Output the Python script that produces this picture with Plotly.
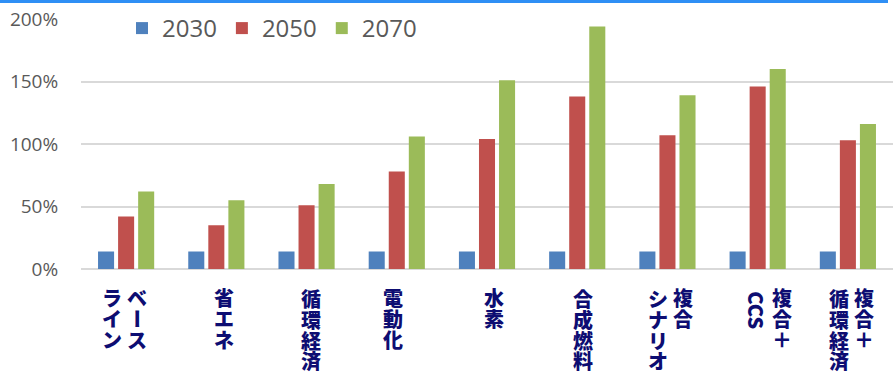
import plotly.graph_objects as go

# Scenario categories and projected ratios (%) per target year
categories = ["ベースライン", "省エネ", "循環経済", "電動化", "水素",
              "合成燃料", "複合シナリオ", "複合＋CCS", "複合＋循環経済"]
vals_2030 = [14, 14, 14, 14, 14, 14, 14, 14, 14]
vals_2050 = [42, 35, 51, 78, 104, 138, 107, 146, 103]
vals_2070 = [62, 55, 68, 106, 151, 194, 139, 160, 116]
series_names = ["2030", "2050", "2070"]
y_ticks = [0, 50, 100, 150, 200]
y_tick_text = ["0%", "50%", "100%", "150%", "200%"]

# Vertical label columns (reading order: right column first)
label_lines = [["ベース", "ライン"], ["省エネ"], ["循環経済"], ["電動化"], ["水素"],
               ["合成燃料"], ["複合", "シナリオ"], ["複合＋", "CCS"], ["複合＋", "循環経済"]]
label_col_shift = [[11, -14], [8], [4], [-4], [7], [6], [16, -9], [24, -1], [16, -9]]

colors = ["#4F81BD", "#C0504D", "#9BBB59"]

W, H = 893, 373
M_L, M_R, M_T, M_B = 81, 0, 19, 104
PLOT_H = H - M_T - M_B
PLOT_W = W - M_L - M_R

fig = go.Figure()
for name, vals, c in zip(series_names, [vals_2030, vals_2050, vals_2070], colors):
    fig.add_trace(go.Bar(x=categories, y=vals, name=name, marker_color=c,
                         marker_line_width=0))


def py(pix):
    """Pixel row (from figure top) to paper y."""
    return (H - M_B - pix) / PLOT_H


def px(pix):
    return (pix - M_L) / PLOT_W


# Column text: base font 16 sets the line pitch (1.3 em = 20.8 px),
# glyphs themselves are enlarged with an inline span.
BASE_SIZE = 16
GLYPH = 20
PITCH = 1.3 * BASE_SIZE
TOP = 288
INK = "#0d0d72"
FAM = "Noto Sans CJK JP"

annotations = []
for cat, cols, shifts in zip(categories, label_lines, label_col_shift):
    for col, sh in zip(cols, shifts):
        if col.isascii():
            annotations.append(dict(
                x=cat, xref="x", xshift=sh, y=py(TOP + 22), yref="paper",
                text=col, showarrow=False, textangle=90,
                font=dict(family=FAM, size=GLYPH, color=INK, weight=900),
                xanchor="center", yanchor="middle"))
            continue
        rows = []
        for i, ch in enumerate(col):
            if ch == "ー":
                # long vowel mark turns upright in vertical writing
                annotations.append(dict(
                    x=cat, xref="x", xshift=sh, y=py(TOP + 10 + i * PITCH),
                    yref="paper", text=ch, showarrow=False, textangle=90,
                    font=dict(family=FAM, size=GLYPH, color=INK, weight=900),
                    xanchor="center", yanchor="middle"))
                rows.append("\u3000")
            else:
                rows.append(ch)
        text = "<br>".join(
            '<span style="font-size:%dpx">%s</span>' % (GLYPH, r) for r in rows)
        n = len(rows)
        annotations.append(dict(
            x=cat, xref="x", xshift=sh,
            y=py(TOP + 10 + (n - 1) / 2 * PITCH), yref="paper",
            text=text, showarrow=False, align="center",
            font=dict(family=FAM, size=BASE_SIZE, color=INK, weight=900),
            xanchor="center", yanchor="middle"))

shapes = [dict(type="rect", xref="paper", yref="paper",
               x0=px(0), x1=px(888), y0=py(3), y1=py(0),
               fillcolor="#2f8ff5", line_width=0, layer="above")]

fig.update_layout(
    width=W, height=H,
    margin=dict(l=M_L, r=M_R, t=M_T, b=M_B),
    paper_bgcolor="white", plot_bgcolor="white",
    barmode="group", bargap=0.333, bargroupgap=0.2,
    font=dict(family="Open Sans", color="#595959"),
    xaxis=dict(showticklabels=False, showgrid=False, zeroline=False,
               showline=False, ticks=""),
    yaxis=dict(range=[0, 200], tickvals=y_ticks, ticktext=y_tick_text,
               showgrid=True, gridcolor="#d9d9d9", gridwidth=2,
               zeroline=True, zerolinecolor="#d9d9d9", zerolinewidth=2,
               showline=False, ticks="outside", ticklen=18,
               tickcolor="rgba(0,0,0,0)",
               tickfont=dict(size=19, color="#595959")),
    legend=dict(orientation="h", x=px(122), xanchor="left",
                y=py(6), yanchor="top", bgcolor="white",
                font=dict(size=24, color="#595959"),
                traceorder="normal", itemclick=False),
    annotations=annotations,
    shapes=shapes,
)

fig.write_html("out.html")
